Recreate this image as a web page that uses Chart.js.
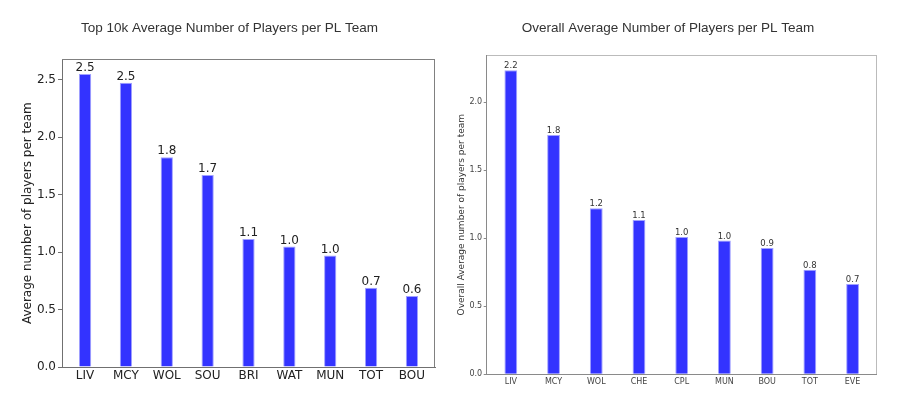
<!DOCTYPE html>
<html>
<head>
<meta charset="utf-8">
<script src="https://cdn.jsdelivr.net/npm/chart.js@4/dist/chart.umd.min.js"></script>
<style>
  html, body { margin: 0; padding: 0; background: #ffffff; }
  #wrap { position: relative; width: 900px; height: 398px; overflow: hidden; }
  canvas { position: absolute; top: 0; }
  #c1 { left: 0; }
  #c2 { left: 450px; }
</style>
</head>
<body>
<div id="wrap">
  <canvas id="c1" width="450" height="398"></canvas>
  <canvas id="c2" width="450" height="398"></canvas>
</div>
<script>
// ---------- data ----------
const leftTitle = 'Top 10k Average Number of Players per PL Team';
const leftYLabel = 'Average number of players per team';
const leftCategories = ['LIV', 'MCY', 'WOL', 'SOU', 'BRI', 'WAT', 'MUN', 'TOT', 'BOU'];
const leftValues = [2.548, 2.473, 1.824, 1.670, 1.114, 1.047, 0.969, 0.689, 0.617];
const leftYTicks = [0, 0.5, 1.0, 1.5, 2.0, 2.5];

const rightTitle = 'Overall Average Number of Players per PL Team';
const rightYLabel = 'Overall Average number of players per team';
const rightCategories = ['LIV', 'MCY', 'WOL', 'CHE', 'CPL', 'MUN', 'BOU', 'TOT', 'EVE'];
const rightValues = [2.233, 1.757, 1.219, 1.134, 1.009, 0.982, 0.928, 0.768, 0.663];
const rightYTicks = [0, 0.5, 1.0, 1.5, 2.0];

// ---------- chart builder ----------
function makeChart(canvasId, s) {
  const n = s.categories.length;
  const barW = 0.3;
  const xPad = barW / 2 + 0.05 * (n - 1 + barW);   // matplotlib-style margins
  const yMax = Math.max(...s.values) * 1.05;

  const framePlugin = {
    id: 'frameAndLabels',
    afterDatasetsDraw(chart) {
      const ctx = chart.ctx;
      const a = chart.chartArea;
      ctx.save();
      // top & right spines
      ctx.strokeStyle = s.spineLight;
      ctx.lineWidth = 1;
      ctx.beginPath();
      ctx.moveTo(Math.round(a.left), Math.round(a.top) + 0.5);
      ctx.lineTo(Math.round(a.right), Math.round(a.top) + 0.5);
      ctx.moveTo(Math.round(a.right) - 0.5, Math.round(a.top));
      ctx.lineTo(Math.round(a.right) - 0.5, Math.round(a.bottom));
      ctx.stroke();
      // value labels above bars
      const meta = chart.getDatasetMeta(0);
      ctx.fillStyle = s.labelColor;
      ctx.font = s.barLabelSize + 'px "DejaVu Sans"';
      ctx.textAlign = 'center';
      ctx.textBaseline = 'bottom';
      meta.data.forEach((bar, i) => {
        ctx.fillText(s.values[i].toFixed(1), bar.x, bar.y);
      });
      ctx.restore();
    }
  };

  return new Chart(document.getElementById(canvasId), {
    type: 'bar',
    data: {
      datasets: [{
        data: s.values.map((v, i) => ({ x: i, y: v })),
        backgroundColor: 'rgb(51,51,255)',
        borderColor: 'rgb(160,160,255)',
        borderWidth: 1,
        barPercentage: barW,
        categoryPercentage: 1.0
      }]
    },
    options: {
      responsive: false,
      animation: false,
      devicePixelRatio: 1,
      layout: { padding: { left: s.padLeft, right: s.padRight, top: 0, bottom: 0 } },
      plugins: {
        legend: { display: false },
        tooltip: { enabled: false },
        title: {
          display: true,
          text: s.title,
          color: '#333333',
          font: { family: '"Liberation Sans", Arial, sans-serif', size: 13.5, weight: 'normal' },
          padding: { top: s.titlePadTop, bottom: s.titlePadBottom }
        }
      },
      scales: {
        x: {
          type: 'linear',
          offset: false,
          min: -xPad,
          max: n - 1 + xPad,
          afterBuildTicks: (axis) => { axis.ticks = s.categories.map((c, i) => ({ value: i })); },
          afterFit: (axis) => { axis.height = s.xAxisHeight; },
          grid: { display: false, drawTicks: false, offset: false },
          border: { display: true, color: s.spineDark, width: 1 },
          ticks: {
            color: s.tickColor,
            font: { family: '"DejaVu Sans"', size: s.tickSize },
            padding: s.xTickPad,
            maxRotation: 0,
            autoSkip: false,
            callback: (v) => s.categories[v]
          }
        },
        y: {
          type: 'linear',
          min: 0,
          max: yMax,
          afterBuildTicks: (axis) => { axis.ticks = s.yTicks.map(v => ({ value: v })); },
          afterFit: (axis) => { axis.width = s.yAxisWidth; },
          grid: { display: true, drawOnChartArea: false, drawTicks: true, tickLength: s.yTickLen, color: s.spineDark },
          border: { display: true, color: s.spineDark, width: 1 },
          ticks: {
            color: s.tickColor,
            font: { family: '"DejaVu Sans"', size: s.tickSize },
            padding: s.yTickPad,
            callback: (v) => Number(v).toFixed(1)
          },
          title: {
            display: true,
            text: s.yLabel,
            color: s.labelColor,
            font: { family: '"DejaVu Sans"', size: s.yLabelSize, lineHeight: 0.5 },
            padding: { top: s.yLabelPad, bottom: 0 }
          }
        }
      }
    },
    plugins: [framePlugin]
  });
}

makeChart('c1', {
  title: leftTitle, yLabel: leftYLabel,
  categories: leftCategories, values: leftValues, yTicks: leftYTicks,
  padLeft: 24, padRight: 15,
  titlePadTop: 20.6, titlePadBottom: 22.6,
  xAxisHeight: 31, yAxisWidth: 38,
  tickSize: 12, barLabelSize: 12, yLabelSize: 12, yLabelPad: 0.5,
  xTickPad: 1.5, yTickPad: 2, yTickLen: 4,
  tickColor: '#222222', labelColor: '#222222',
  spineDark: '#707070', spineLight: '#808080'
});

makeChart('c2', {
  title: rightTitle, yLabel: rightYLabel,
  categories: rightCategories, values: rightValues, yTicks: rightYTicks,
  padLeft: 9.3, padRight: 23.3,
  titlePadTop: 20.6, titlePadBottom: 18.3,
  xAxisHeight: 23.7, yAxisWidth: 27.4,
  tickSize: 8, barLabelSize: 8.5, yLabelSize: 9, yLabelPad: 0.2,
  xTickPad: 3, yTickPad: 1.5, yTickLen: 3,
  tickColor: '#444444', labelColor: '#333333',
  spineDark: '#8a8a8a', spineLight: '#bbbbbb'
});
</script>
</body>
</html>
